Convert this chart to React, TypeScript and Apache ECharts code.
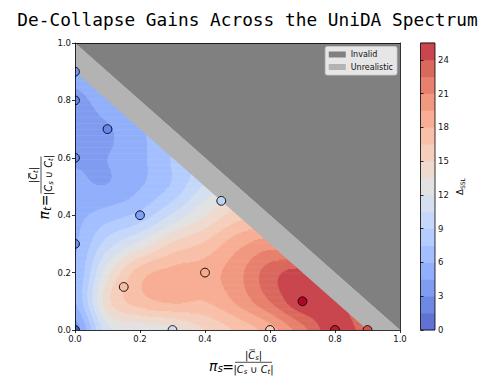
import React, { useEffect, useRef } from 'react';
import * as echarts from 'echarts';

// ---------------- data ----------------
const TITLE = 'De-Collapse Gains Across the UniDA Spectrum';
const axisTicks = [0, 0.2, 0.4, 0.6, 0.8, 1.0];
const colorbarTicks = [0, 3, 6, 9, 12, 15, 18, 21, 24];
const LEVEL_STEP = 1.5;
const LEVEL_MAX = 25.5;
const FIELD_LIMIT = 0.92; // field drawn under the "Unrealistic" band edge

// measured configurations (pi_s, pi_t) and their Delta_SSL
const pointX = [0, 0, 0.1, 0, 0, 0, 0.2, 0.45, 0.15, 0.3, 0.4, 0.6, 0.7, 0.8, 0.9];
const pointY = [0.9, 0.8, 0.7, 0.6, 0.3, 0, 0.4, 0.45, 0.15, 0, 0.2, 0, 0.1, 0, 0];
const pointV = [4.5, 3.5, 3.5, 3.8, 4.2, 1, 5.2, 10, 16.5, 11.5, 18, 14.8, 25.5, 25, 23];

// interpolated surface on a 0.1 grid (row = pi_t, col = pi_s)
const FIELD_STEP = 0.1;
const fieldRows: number[][] = [
  [3.5, 11.5, 12.5, 13, 15, 16.8, 18.8, 22, 25, 23, 20],
  [6, 14.5, 17.3, 18.2, 18, 19.8, 22.5, 25.2, 24.5, 22],
  [6, 13, 17.3, 18.5, 18.8, 20.5, 23.3, 24.5, 22],
  [5.8, 9.8, 12.5, 15.3, 16.8, 19, 20.3, 19.5],
  [5.6, 6.8, 8, 10.8, 13.5, 15.8, 16.5],
  [4.8, 4.6, 5.9, 7.8, 10.8, 12.5],
  [4.3, 4.5, 5.6, 7.6, 9],
  [3.4, 4.3, 5.8, 7],
  [3.8, 5.6, 6.5],
  [5.6, 6.5],
  [6.5],
];

const invalidPolygon = [[0, 1], [1, 1], [1, 0]];
const unrealisticPolygon = [[0, 0.9], [0, 1], [1, 0], [0.9, 0]];
const legendNames = ['Invalid', 'Unrealistic'];
const legendColors = ['#808080', '#b3b3b3'];

// ---------------- colormap (coolwarm) ----------------
const COOLWARM = [
  [59, 76, 192], [68, 90, 204], [77, 104, 215], [87, 117, 225], [98, 130, 234],
  [108, 142, 241], [119, 154, 247], [130, 165, 251], [141, 176, 254], [152, 185, 255],
  [163, 194, 255], [174, 201, 253], [184, 208, 249], [194, 213, 244], [204, 217, 238],
  [213, 219, 230], [221, 221, 221], [229, 216, 209], [236, 211, 197], [241, 204, 185],
  [245, 196, 173], [247, 187, 160], [247, 177, 148], [247, 166, 135], [244, 154, 123],
  [241, 141, 111], [236, 127, 99], [229, 112, 88], [222, 96, 77], [213, 80, 66],
  [203, 62, 56], [192, 40, 47], [180, 4, 38],
];
function coolwarm(t: number, alpha = 1): string {
  const tt = Math.max(0, Math.min(1, t)) * (COOLWARM.length - 1);
  const i = Math.min(COOLWARM.length - 2, Math.floor(tt));
  const f = tt - i;
  const c = [0, 1, 2].map((k) => COOLWARM[i][k] + (COOLWARM[i + 1][k] - COOLWARM[i][k]) * f);
  const b = c.map((v) => Math.round(alpha * v + (1 - alpha) * 255));
  return `rgb(${b[0]},${b[1]},${b[2]})`;
}
const NBANDS = Math.round(LEVEL_MAX / LEVEL_STEP);
const bandColors = Array.from({ length: NBANDS }, (_, i) => coolwarm((i + 0.5) / NBANDS, 0.85));

// ---------------- surface sampling ----------------
function gv(i: number, j: number): number {
  const jj = Math.max(0, Math.min(fieldRows.length - 1, j));
  const row = fieldRows[jj];
  const ii = Math.max(0, Math.min(row.length - 1, i));
  return row[ii];
}
function cr(p0: number, p1: number, p2: number, p3: number, t: number) {
  return 0.5 * (2 * p1 + (-p0 + p2) * t + (2 * p0 - 5 * p1 + 4 * p2 - p3) * t * t + (-p0 + 3 * p1 - 3 * p2 + p3) * t * t * t);
}
function field(x: number, y: number): number {
  const gx = x / FIELD_STEP, gy = y / FIELD_STEP;
  const i = Math.floor(gx), j = Math.floor(gy);
  const tx = gx - i, ty = gy - j;
  const col: number[] = [];
  for (let dj = -1; dj <= 2; dj++) {
    col.push(cr(gv(i - 1, j + dj), gv(i, j + dj), gv(i + 1, j + dj), gv(i + 2, j + dj), tx));
  }
  return cr(col[0], col[1], col[2], col[3], ty);
}
function buildRuns() {
  const runs: number[][] = [];
  const NY = 220;
  const dy = FIELD_LIMIT / NY;
  const dx = 0.002;
  for (let k = 0; k < NY; k++) {
    const y0 = k * dy, y1 = (k + 1) * dy, yc = (y0 + y1) / 2;
    const xmax = Math.max(0, FIELD_LIMIT - y0);
    let start = 0, cur = -1;
    for (let x = 0; x < xmax; x += dx) {
      const v = field(x + dx / 2, yc);
      const b = Math.max(0, Math.min(NBANDS - 1, Math.floor(v / LEVEL_STEP)));
      if (cur === -1) { cur = b; start = x; }
      else if (b !== cur) { runs.push([start, x, y0, y1, cur]); cur = b; start = x; }
    }
    if (cur !== -1) runs.push([start, Math.min(1, xmax), y0, y1, cur]);
  }
  return runs;
}

// ---------------- math labels ----------------
const MF = 'DejaVu Sans';
let measureCtx: CanvasRenderingContext2D | null = null;
function tw(text: string, size: number, italic = false): number {
  if (!measureCtx) measureCtx = document.createElement('canvas').getContext('2d');
  if (!measureCtx) return text.length * size * 0.6;
  measureCtx.font = `${italic ? 'italic ' : ''}${size}px "${MF}"`;
  return measureCtx.measureText(text).width;
}
function txt(text: string, x: number, y: number, size: number, italic = false, align = 'left', family = MF) {
  return {
    type: 'text', x, y, silent: true,
    style: {
      text, fontSize: size, fontFamily: family, fontStyle: italic ? 'italic' : 'normal', fill: '#000',
      align, verticalAlign: 'middle', textAlign: align, textVerticalAlign: 'middle',
    },
  };
}
type Piece = { t: string; size: number; it: boolean; dy: number; bar?: boolean };
function row(pieces: Piece[], cx: number, cy: number, out: any[]) {
  const widths = pieces.map((p) => tw(p.t, p.size, p.it));
  const total = widths.reduce((a, b) => a + b, 0);
  let x = cx - total / 2;
  pieces.forEach((p, k) => {
    out.push(txt(p.t, x, cy + p.dy, p.size, p.it));
    if (p.bar) {
      out.push({ type: 'line', silent: true, shape: { x1: x + 1.2, y1: cy - 5.2, x2: x + widths[k], y2: cy - 5.2 }, style: { stroke: '#000', lineWidth: 0.6 } });
    }
    x += widths[k];
  });
}
function mathLabel(sub: string) {
  const els: any[] = [];
  const big = 14, med = 9.8, sm = 6.9;
  const x0 = -31.5;
  els.push(txt('π', x0, 3.2, big, true));
  els.push(txt(sub, x0 + tw('π', big, true) + 0.2, 6.0, med, true));
  els.push(txt('=', -12.5, 4.4, big, false, 'center'));
  els.push({ type: 'line', silent: true, shape: { x1: -5.5, y1: 0, x2: 31.5, y2: 0 }, style: { stroke: '#000', lineWidth: 0.7 } });
  row([
    { t: '|', size: med, it: false, dy: 0 },
    { t: 'C', size: med, it: true, dy: 0, bar: true },
    { t: sub, size: sm, it: true, dy: 2.6 },
    { t: '|', size: med, it: false, dy: 0 },
  ], 13, -7.3, els);
  row([
    { t: '|', size: med, it: false, dy: 0 },
    { t: 'C', size: med, it: true, dy: 0 },
    { t: 's', size: sm, it: true, dy: 2.6 },
    { t: ' ∪ ', size: med, it: false, dy: 0 },
    { t: 'C', size: med, it: true, dy: 0 },
    { t: 't', size: sm, it: true, dy: 2.6 },
    { t: '|', size: med, it: false, dy: 0 },
  ], 13, 7.5, els);
  return els;
}
function cbarLabel() {
  const els: any[] = [];
  const wD = tw('Δ', 8.6);
  const wS = tw('SSL', 6);
  const x0 = -(wD + wS) / 2;
  els.push(txt('Δ', x0, 0, 8.6));
  els.push(txt('SSL', x0 + wD, 2.2, 6));
  return els;
}

// ---------------- component ----------------
export default function App() {
  const ref = useRef<HTMLDivElement>(null);
  useEffect(() => {
    if (!ref.current) return;
    const chart = echarts.init(ref.current, undefined, { renderer: 'svg' });
    const runs = buildRuns();
    const points = pointX.map((x, i) => [x, pointY[i], pointV[i]]);
    const bands = Array.from({ length: NBANDS }, (_, i) => [i * LEVEL_STEP, (i + 1) * LEVEL_STEP, i]);
    const spine = { color: '#000', width: 0.8 };
    const tickLabel = { fontSize: 8.5, color: '#111', fontFamily: MF };

    const polySeries = (name: string, poly: number[][], color: string) => ({
      type: 'custom', name, xAxisIndex: 0, yAxisIndex: 0, silent: true, z: 3,
      itemStyle: { color },
      data: [[0]],
      renderItem: (_p: any, api: any) => ({
        type: 'polygon',
        shape: { points: poly.map((pt) => api.coord(pt)) },
        style: { fill: color, stroke: null },
      }),
    });

    const option: any = {
      animation: false,
      backgroundColor: '#ffffff',
      grid: [
        { left: 75, top: 43, width: 325, height: 287, show: false },
        { left: 420.5, top: 43, width: 14.5, height: 287, show: false },
      ],
      xAxis: [
        {
          gridIndex: 0, type: 'value', min: 0, max: 1, interval: 0.2, position: 'bottom', z: 10,
          axisLine: { show: true, onZero: false, lineStyle: spine },
          axisTick: { show: true, length: 3, lineStyle: spine, customValues: axisTicks },
          axisLabel: { ...tickLabel, margin: 4, customValues: axisTicks, formatter: (v: number) => v.toFixed(1) },
          splitLine: { show: false },
        },
        {
          gridIndex: 0, type: 'value', min: 0, max: 1, position: 'top', z: 10,
          axisLine: { show: true, onZero: false, lineStyle: spine },
          axisTick: { show: false }, axisLabel: { show: false }, splitLine: { show: false },
        },
        { gridIndex: 1, type: 'value', min: 0, max: 1, show: false },
      ],
      yAxis: [
        {
          gridIndex: 0, type: 'value', min: 0, max: 1, interval: 0.2, position: 'left', z: 10,
          axisLine: { show: true, onZero: false, lineStyle: spine },
          axisTick: { show: true, length: 3, lineStyle: spine, customValues: axisTicks },
          axisLabel: { ...tickLabel, margin: 4, customValues: axisTicks, formatter: (v: number) => v.toFixed(1) },
          splitLine: { show: false },
        },
        {
          gridIndex: 0, type: 'value', min: 0, max: 1, position: 'right', z: 10,
          axisLine: { show: true, onZero: false, lineStyle: spine },
          axisTick: { show: false }, axisLabel: { show: false }, splitLine: { show: false },
        },
        {
          gridIndex: 1, type: 'value', min: 0, max: LEVEL_MAX, interval: 3, position: 'right', z: 10,
          axisLine: { show: false },
          axisTick: { show: true, length: 3, lineStyle: spine, customValues: colorbarTicks },
          axisLabel: { ...tickLabel, margin: 3, customValues: colorbarTicks, formatter: (v: number) => (v % 3 === 0 ? String(v) : '') },
          splitLine: { show: false },
        },
      ],
      legend: {
        show: true, orient: 'vertical', right: 97, top: 46.5, selectedMode: false,
        data: legendNames.map((n, i) => ({ name: n, icon: 'rect', itemStyle: { color: legendColors[i] } })),
        itemWidth: 17, itemHeight: 6, itemGap: 3.5,
        textStyle: { fontSize: 8, fontFamily: MF, color: '#111', lineHeight: 9 },
        backgroundColor: 'rgba(255,255,255,0.8)', borderColor: '#cccccc', borderWidth: 0.8, borderRadius: 2,
        padding: [3.5, 4, 3.5, 3.5], z: 20,
      },
      graphic: [
        { type: 'text', x: 247.5, y: 19.1, silent: true, style: { text: TITLE, fontSize: 17.8, fontFamily: 'DejaVu Sans Mono', fill: '#000', align: 'center', verticalAlign: 'middle', textAlign: 'center', textVerticalAlign: 'middle' } },
        { type: 'group', x: 240.5, y: 362.3, silent: true, children: mathLabel('s') },
        { type: 'group', x: 41, y: 188, rotation: Math.PI / 2, silent: true, children: mathLabel('t') },
        { type: 'group', x: 460, y: 186.5, rotation: Math.PI / 2, silent: true, children: cbarLabel() },
      ],
      series: [
        {
          type: 'custom', name: 'field', xAxisIndex: 0, yAxisIndex: 0, silent: true, z: 2,
          data: runs,
          renderItem: (_p: any, api: any) => {
            const p0 = api.coord([api.value(0), api.value(3)]);
            const p1 = api.coord([api.value(1), api.value(2)]);
            return {
              type: 'rect',
              shape: { x: p0[0], y: p0[1] - 0.3, width: p1[0] - p0[0] + 0.4, height: p1[1] - p0[1] + 0.6 },
              style: { fill: bandColors[api.value(4)], stroke: null },
            };
          },
        },
        polySeries(legendNames[1], unrealisticPolygon, legendColors[1]),
        polySeries(legendNames[0], invalidPolygon, legendColors[0]),
        {
          type: 'custom', name: 'points', xAxisIndex: 0, yAxisIndex: 0, silent: true, z: 4, clip: true,
          data: points,
          renderItem: (_p: any, api: any) => {
            const c = api.coord([api.value(0), api.value(1)]);
            return {
              type: 'circle',
              shape: { cx: c[0], cy: c[1], r: 4.4 },
              style: { fill: coolwarm(api.value(2) / LEVEL_MAX), stroke: '#000', lineWidth: 0.9 },
            };
          },
        },
        {
          type: 'custom', name: 'colorbar', xAxisIndex: 2, yAxisIndex: 2, silent: true, z: 2,
          data: bands,
          renderItem: (_p: any, api: any) => {
            const p0 = api.coord([0, api.value(1)]);
            const p1 = api.coord([1, api.value(0)]);
            return {
              type: 'rect',
              shape: { x: p0[0], y: p0[1] - 0.3, width: p1[0] - p0[0], height: p1[1] - p0[1] + 0.6 },
              style: { fill: bandColors[api.value(2)], stroke: null },
            };
          },
        },
        {
          type: 'custom', name: 'colorbarFrame', xAxisIndex: 2, yAxisIndex: 2, silent: true, z: 5,
          data: [[0]],
          renderItem: (_p: any, api: any) => {
            const p0 = api.coord([0, LEVEL_MAX]);
            const p1 = api.coord([1, 0]);
            return {
              type: 'rect',
              shape: { x: p0[0], y: p0[1], width: p1[0] - p0[0], height: p1[1] - p0[1] },
              style: { fill: 'none', stroke: '#000', lineWidth: 0.8 },
            };
          },
        },
      ],
    };
    chart.setOption(option);
    return () => chart.dispose();
  }, []);
  return <div ref={ref} style={{ position: 'absolute', left: 0, top: 0, width: 494, height: 387 }} />;
}
